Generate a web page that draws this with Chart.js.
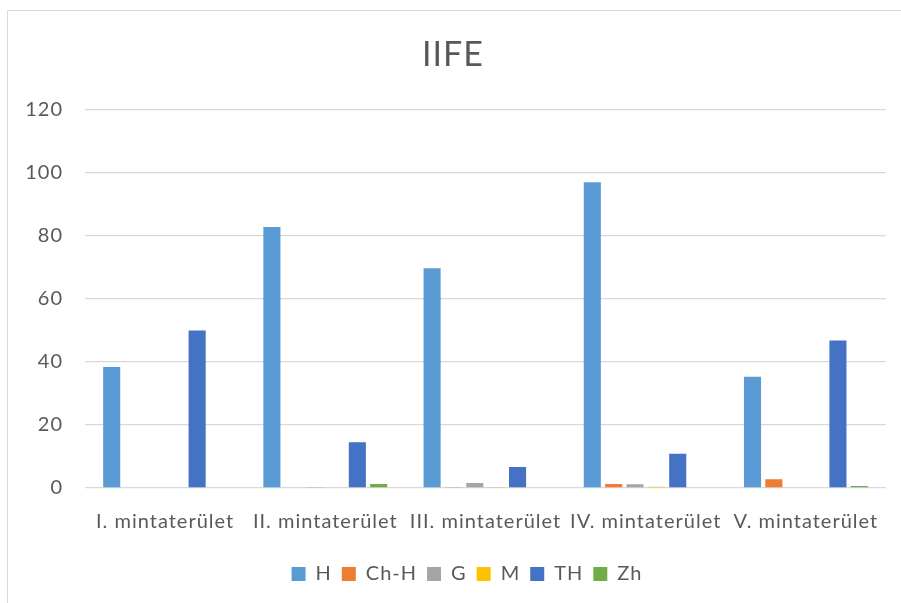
<!DOCTYPE html>
<html>
<head>
<meta charset="utf-8">
<script src="https://cdn.jsdelivr.net/npm/chart.js@4/dist/chart.umd.min.js"></script>
<style>
  html, body { margin: 0; padding: 0; background: #ffffff; }
  #wrap { position: absolute; left: 0; top: 0; width: 901px; height: 603px; }
</style>
</head>
<body>
<div id="wrap"><canvas id="c" width="901" height="603"></canvas></div>
<script>
// Sampling areas and measured values per group
const categories = ['I. mintaterület', 'II. mintaterület', 'III. mintaterület', 'IV. mintaterület', 'V. mintaterület'];
const seriesNames = ['H', 'Ch-H', 'G', 'M', 'TH', 'Zh'];
const valuesH   = [38.4, 82.8, 69.7, 97.0, 35.3];
const valuesChH = [0, 0, 0.3, 1.3, 2.8];
const valuesG   = [0, 0.3, 1.6, 1.2, 0];
const valuesM   = [0, 0, 0.3, 0.4, 0];
const valuesTH  = [50.0, 14.5, 6.7, 10.9, 46.8];
const valuesZh  = [0, 1.3, 0, 0, 0.6];
const yTicks = [0, 20, 40, 60, 80, 100, 120];

const colors = ['#5B9BD5', '#ED7D31', '#A5A5A5', '#FFC000', '#4472C4', '#70AD47'];
const seriesValues = [valuesH, valuesChH, valuesG, valuesM, valuesTH, valuesZh];

const FONT = 'Lato, "Open Sans", sans-serif';
const TEXT = '#595959';

// Light grey frame, slightly looser text tracking, and horizontal offsets
// for the title and legend blocks
const framePlugin = {
  id: 'frame',
  beforeUpdate(chart) { chart.ctx.letterSpacing = '1px'; },
  afterLayout(chart) {
    const shift = (box, dx) => { if (box) { box.left += dx; box.right += dx; } };
    shift(chart.titleBlock, 10);
    shift(chart.legend, 24);
  },
  beforeDraw(chart) {
    const ctx = chart.ctx;
    ctx.letterSpacing = '1px';
    ctx.save();
    ctx.fillStyle = '#ffffff';
    ctx.fillRect(0, 0, chart.width, chart.height);
    ctx.strokeStyle = '#D9D9D9';
    ctx.lineWidth = 1;
    ctx.strokeRect(7.5, 10.5, 900, 600);
    ctx.restore();
  }
};

new Chart(document.getElementById('c'), {
  type: 'bar',
  data: {
    labels: categories,
    datasets: seriesNames.map((name, i) => ({
      label: name,
      data: seriesValues[i],
      backgroundColor: colors[i],
      borderWidth: 0,
      categoryPercentage: 0.8,
      barPercentage: 0.8
    }))
  },
  options: {
    responsive: false,
    animation: false,
    devicePixelRatio: 1,
    layout: { padding: { left: 0, right: 15, top: 10, bottom: 9 } },
    plugins: {
      title: {
        display: true,
        text: 'IIFE',
        color: TEXT,
        font: { family: FONT, size: 34, weight: 'normal' },
        padding: { top: 25, bottom: 34 }
      },
      legend: {
        position: 'bottom',
        labels: {
          color: TEXT,
          font: { family: FONT, size: 20 },
          boxWidth: 14,
          boxHeight: 14,
          padding: 10
        }
      },
      tooltip: { enabled: false }
    },
    scales: {
      x: {
        grid: { display: false },
        border: { display: false },
        afterFit(scale) { scale.height += 6; },
        ticks: { color: TEXT, font: { family: FONT, size: 20 }, padding: 14, maxRotation: 0, autoSkip: false }
      },
      y: {
        min: 0,
        max: 120,
        afterBuildTicks(scale) { scale.ticks = yTicks.map(v => ({ value: v })); },
        afterFit(scale) { scale.width = 85; },
        grid: { color: '#D9D9D9', lineWidth: 1.3, drawTicks: false },
        border: { display: false },
        ticks: { color: TEXT, font: { family: FONT, size: 20 }, padding: 22 }
      }
    }
  },
  plugins: [framePlugin]
});
</script>
</body>
</html>
